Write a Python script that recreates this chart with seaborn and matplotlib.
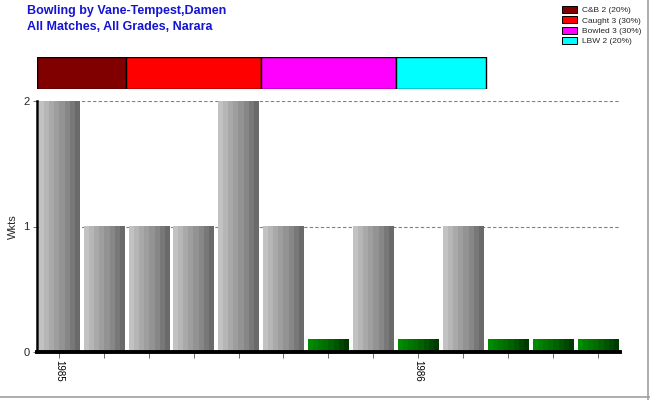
import numpy as np
import pandas as pd
import matplotlib
matplotlib.use("Agg")
import matplotlib.pyplot as plt
import seaborn as sns
from matplotlib.colors import LinearSegmentedColormap
from matplotlib.patches import Patch

# data
wickets = [2, 1, 1, 1, 2, 1, 0, 1, 0, 1, 0, 0, 0]
season_labels = ['1985', '', '', '', '', '', '', '', '1986', '', '', '', '']
dismissal_names = ['C&B', 'Caught', 'Bowled', 'LBW']
dismissal_counts = [2, 3, 3, 2]
dismissal_pct = [20, 30, 30, 20]
dismissal_colors = ['#800000', '#ff0000', '#ff00ff', '#00ffff']

sns.set_theme(style='white')
plt.rcParams['font.family'] = ['Liberation Sans', 'DejaVu Sans']

df = pd.DataFrame({
    'idx': [str(i) for i in range(len(wickets))],
    'wkts': wickets,
})
# zero-wicket innings are drawn as small green stubs
df['shown'] = [w if w > 0 else 0.1 for w in wickets]
df['kind'] = ['gray' if w > 0 else 'green' for w in wickets]

fig = plt.figure(figsize=(6.5, 4), dpi=100)
ax = fig.add_axes([0.0562, 0.12, 0.898, 0.6275])

sns.barplot(data=df, x='idx', y='shown', hue='idx', legend=False,
            palette=['#999999'] * len(df), width=0.9, ax=ax, saturation=1)

gray_cmap = LinearSegmentedColormap.from_list('g', ['#c2c2c2', '#a6a6a6', '#8c8c8c', '#6a6a6a'])
green_cmap = LinearSegmentedColormap.from_list('gr', ['#008c00', '#006a00', '#003a00'])
grad = np.linspace(0, 1, 8).reshape(1, -1)
for patch, kind in zip(ax.patches, df['kind']):
    x0, y0 = patch.get_x(), patch.get_y()
    w, h = patch.get_width(), patch.get_height()
    cmap = gray_cmap if kind == 'gray' else green_cmap
    ax.imshow(grad, cmap=cmap, extent=[x0, x0 + w, y0, y0 + h],
              aspect='auto', interpolation='nearest', zorder=2)
    patch.set_visible(False)

ax.set_xlim(-0.5, len(wickets) - 0.5)
ax.set_ylim(0, 2)
ax.set_yticks([0, 1, 2])
ax.set_yticklabels(['0', '1', '2'], fontsize=8)
ax.set_xticks(range(len(wickets)))
ax.set_xticklabels(season_labels, rotation=270, fontsize=7, color='black')
ax.tick_params(axis='x', direction='out', length=4, width=0.6, color='#555555', pad=2, bottom=True)
ax.tick_params(axis='y', direction='out', length=3, width=0.6, color='#555555', pad=2, left=True)
ax.set_xlabel('')
ax.set_ylabel('Wkts', fontsize=8, labelpad=4)
for y in [1, 2]:
    ax.axhline(y, color='#808080', linestyle=(0, (3, 2)), linewidth=0.8, zorder=1)
for s in ['top', 'right']:
    ax.spines[s].set_visible(False)
ax.spines['left'].set_color('black')
ax.spines['left'].set_linewidth(1.8)
ax.spines['bottom'].set_color('black')
ax.spines['bottom'].set_linewidth(2.8)
ax.spines['bottom'].set_zorder(5)

# dismissal summary strip
ax_top = fig.add_axes([0.0562, 0.7775, 0.898, 0.08])
left = -0.5
for n, c in zip(dismissal_counts, dismissal_colors):
    ax_top.barh(0, n, left=left, color=c, edgecolor='black', linewidth=1.0, height=1)
    left += n
ax_top.set_xlim(-0.5, len(wickets) - 0.5)
ax_top.set_ylim(-0.5, 0.5)
ax_top.axis('off')

fig.text(27 / 650, 1 - 5 / 400, 'Bowling by Vane-Tempest,Damen\nAll Matches, All Grades, Narara',
         color='#1414d2', fontsize=9, fontweight='bold', va='top', ha='left', linespacing=1.4)

handles = [Patch(facecolor=c, edgecolor='black', linewidth=0.7) for c in dismissal_colors]
labels = [f'{n} {k} ({p}%)' for n, k, p in zip(dismissal_names, dismissal_counts, dismissal_pct)]
fig.legend(handles, labels, loc='upper right', bbox_to_anchor=(0.995, 1.0), frameon=False,
           fontsize=6, handlelength=1.9, handleheight=0.9, labelspacing=0.25, handletextpad=0.5,
           borderaxespad=0.3)

# light border on right and bottom
fig.add_artist(plt.Line2D([0.9975, 0.9975], [0, 1], color='#a0a0a0', linewidth=1.2, transform=fig.transFigure))
fig.add_artist(plt.Line2D([0, 1], [0.0075, 0.0075], color='#a0a0a0', linewidth=1.2, transform=fig.transFigure))

fig.savefig('out.png', dpi=100)
